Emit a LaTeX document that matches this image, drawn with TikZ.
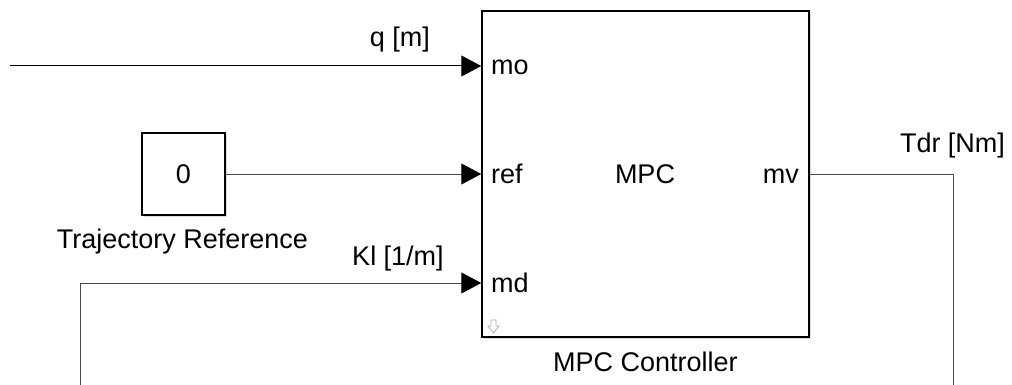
\documentclass[tikz,border=0pt]{standalone}
\usepackage{fontspec}
\setmainfont{Liberation Sans}
\usepackage{xcolor}
\definecolor{cLine}{HTML}{000000}
\definecolor{cWire}{HTML}{4A4A4A}
\definecolor{cIcon}{HTML}{B0B0B0}
\usepackage{tikz}
\usetikzlibrary{positioning,arrows.meta,shadows}
\tikzset{
  node-block/.style={draw=cLine,line width=1.5pt,fill=white,
    drop shadow={shadow xshift=1.5pt,shadow yshift=-1.5pt,opacity=0.25},
    inner sep=0pt},
  node-text/.style={inner sep=0pt,font=\fontsize{27}{31}\selectfont},
  node-port/.style={node-text,anchor=base west},
  node-sig/.style={node-text,anchor=base},
  arrow-sig/.style={-{Triangle[length=20pt,width=21pt,color=cLine]},
    line width=1pt,draw=cLine},
  wire/.style={line width=1pt,draw=cWire},
}

\begin{document}
\begin{tikzpicture}[x=1pt,y=-1pt]
  \useasboundingbox (0,0) rectangle (1012,385);

  % blocks
  \node[node-block,minimum width=327pt,minimum height=326pt] (mpc) at (645.5,174) {};
  \node[node-block,minimum width=83pt,minimum height=82pt,node-text] (const) at (183.5,174) {};
  \node[node-sig] (zero) at (183.5,183) {0};
  \node[node-sig] (trajlbl) at (182.5,248) {Trajectory Reference};
  \node[node-sig] (mpclbl) at (645.5,371) {MPC Controller};

  % ports
  \node[node-port] (mo) at (491,75) {mo};
  \node[node-port] (ref) at (491,183) {ref};
  \node[node-port] (md) at (491,292) {md};
  \node[node-text,anchor=base east] (mv) at (799,183) {mv};
  \node[node-sig] (mpcname) at (645,183) {MPC};
  \filldraw[draw=cIcon,fill=white,line width=0.8pt]
    (491,320) -- (496,320) -- (496,326) -- (499,326) -- (493.5,333)
    -- (488,326) -- (491,326) -- cycle;

  % signals
  \coordinate (qin) at (10,66);
  \coordinate (klin) at (80,386);
  \coordinate (tdrbend) at (953,174);
  \coordinate (tdrout) at (953,386);

  \draw[arrow-sig] (qin) -- (mpc.west |- 0,66);
  \draw[arrow-sig,draw=cWire] (const.east) -- (mpc.west |- const.east);
  \draw[arrow-sig,draw=cWire] (klin) |- (mpc.west |- 0,283);
  \draw[wire] (mpc.east |- tdrbend) -- (tdrbend) -- (tdrout);

  \node[node-sig] (qlbl) at (400,47) {q [m]};
  \node[node-sig] (kllbl) at (398,265) {Kl [1/m]};
  \node[node-sig] (tdrlbl) at (952.5,153) {Tdr [Nm]};
\end{tikzpicture}
\end{document}
